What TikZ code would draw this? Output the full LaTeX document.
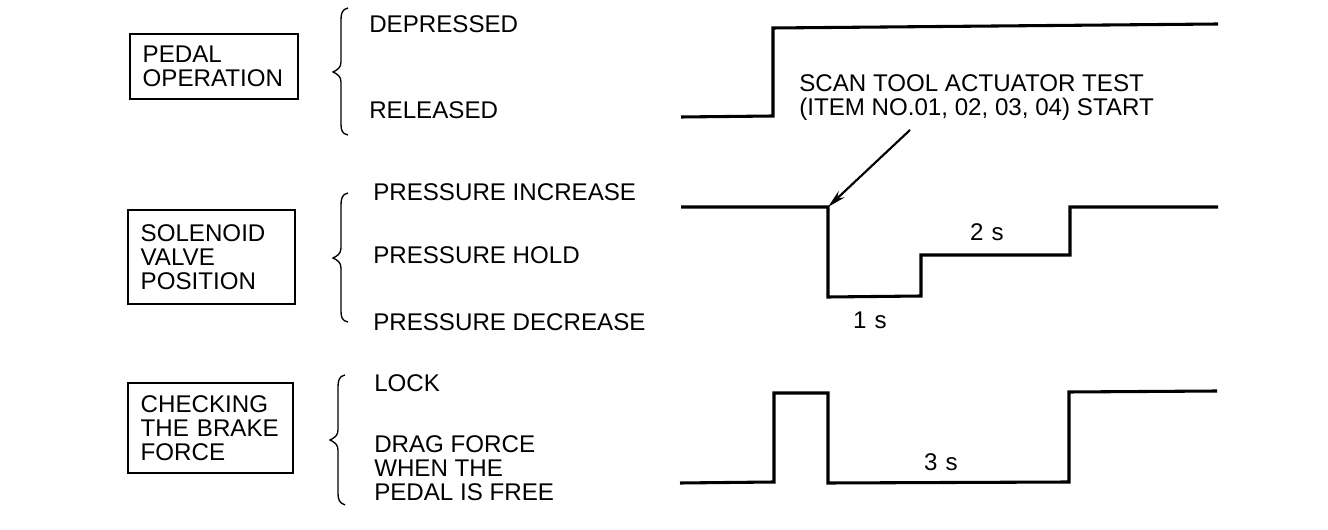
\documentclass[tikz,border=0pt]{standalone}
\usepackage{fontspec}
\setmainfont{Liberation Sans}
\usetikzlibrary{arrows.meta}
\begin{document}
\begin{tikzpicture}[x=0.75pt,y=-0.75pt,
  every node/.style={font=\fontsize{18.1}{18}\selectfont, inner sep=0pt},
  lbl/.style={anchor=base west},
  sbox/.style={draw, line width=1pt, align=left, inner xsep=9.5pt},
  wave/.style={line width=2.3pt, line join=miter},
  brc/.style={line width=1pt},
  ptr/.style={line width=1.6pt, -{Stealth[length=14pt,width=6.5pt]}}]
\useasboundingbox (0,0) rectangle (1328,530);
% boxes
\node[sbox, text width=107pt, minimum height=48.75pt] (pedal) at (214,66.5) {PEDAL\\OPERATION};
\node[sbox, text width=106.25pt, minimum height=70.5pt] (sol) at (211.5,257) {SOLENOID\\VALVE\\POSITION};
\node[sbox, text width=104.75pt, minimum height=67.5pt] (chk) at (210.5,428) {CHECKING\\THE BRAKE\\FORCE};
% braces
\draw[brc] (348,8) .. controls (342,9) and (341,14) .. (341,20) -- (341,62) .. controls (341,68) and (337,70) .. (333,72) .. controls (337,74) and (341,76) .. (341,82) -- (341,124) .. controls (341,130) and (342,134) .. (348,135);
\draw[brc] (348,193) .. controls (342,194) and (341,199) .. (341,205) -- (341,248) .. controls (341,254) and (337,256) .. (333,258) .. controls (337,260) and (341,262) .. (341,268) -- (341,311) .. controls (341,317) and (342,321) .. (348,322);
\draw[brc] (345,375) .. controls (339,376) and (338,381) .. (338,387) -- (338,430) .. controls (338,436) and (334,438) .. (330,440) .. controls (334,442) and (338,444) .. (338,450) -- (338,493) .. controls (338,499) and (339,503) .. (345,505);
% state labels
\node[lbl] (dep) at (369,33) {DEPRESSED};
\node[lbl] (rel) at (369,119) {RELEASED};
\node[lbl] (pinc) at (373,201) {PRESSURE INCREASE};
\node[lbl] (phold) at (373,264) {PRESSURE HOLD};
\node[lbl] (pdec) at (373,331) {PRESSURE DECREASE};
\node[lbl] (lock) at (374,392) {LOCK};
\node[anchor=north west, align=left] (drag) at (374,435) {DRAG FORCE\\WHEN THE\\PEDAL IS FREE};
% pedal waveform
\coordinate (p0) at (681,117);
\coordinate (p1) at (773,116);
\coordinate (p2) at (773,28);
\coordinate (p3) at (1218,24);
\draw[wave] (p0) -- (p1) -- (p2) -- (p3);
% solenoid waveform
\coordinate (s0) at (681,207);
\coordinate (s1) at (828,207);
\coordinate (s2) at (828,297);
\coordinate (s3) at (921,296);
\coordinate (s4) at (921,255);
\coordinate (s5) at (1070,255);
\coordinate (s6) at (1070,207);
\coordinate (s7) at (1218,207);
\draw[wave] (s0) -- (s1) -- (s2) -- (s3) -- (s4) -- (s5) -- (s6) -- (s7);
% brake waveform
\coordinate (b0) at (680,483);
\coordinate (b1) at (774,482);
\coordinate (b2) at (774,393);
\coordinate (b3) at (828,393);
\coordinate (b4) at (828,483);
\coordinate (b5) at (1069,482);
\coordinate (b6) at (1069,392);
\coordinate (b7) at (1217,391);
\draw[wave] (b0) -- (b1) -- (b2) -- (b3) -- (b4) -- (b5) -- (b6) -- (b7);
% annotation
\node[anchor=west, align=left] (scan) at (799,97.5) {SCAN TOOL ACTUATOR TEST\\(ITEM NO.01, 02, 03, 04) START};
\coordinate (arrstart) at (910,130);
\draw[ptr] (arrstart) -- (s1);
% durations
\node (t1) at (870,320) {1\,\,s};
\node (t2) at (987,232) {2\,\,s};
\node (t3) at (941,462) {3\,\,s};
\end{tikzpicture}
\end{document}
